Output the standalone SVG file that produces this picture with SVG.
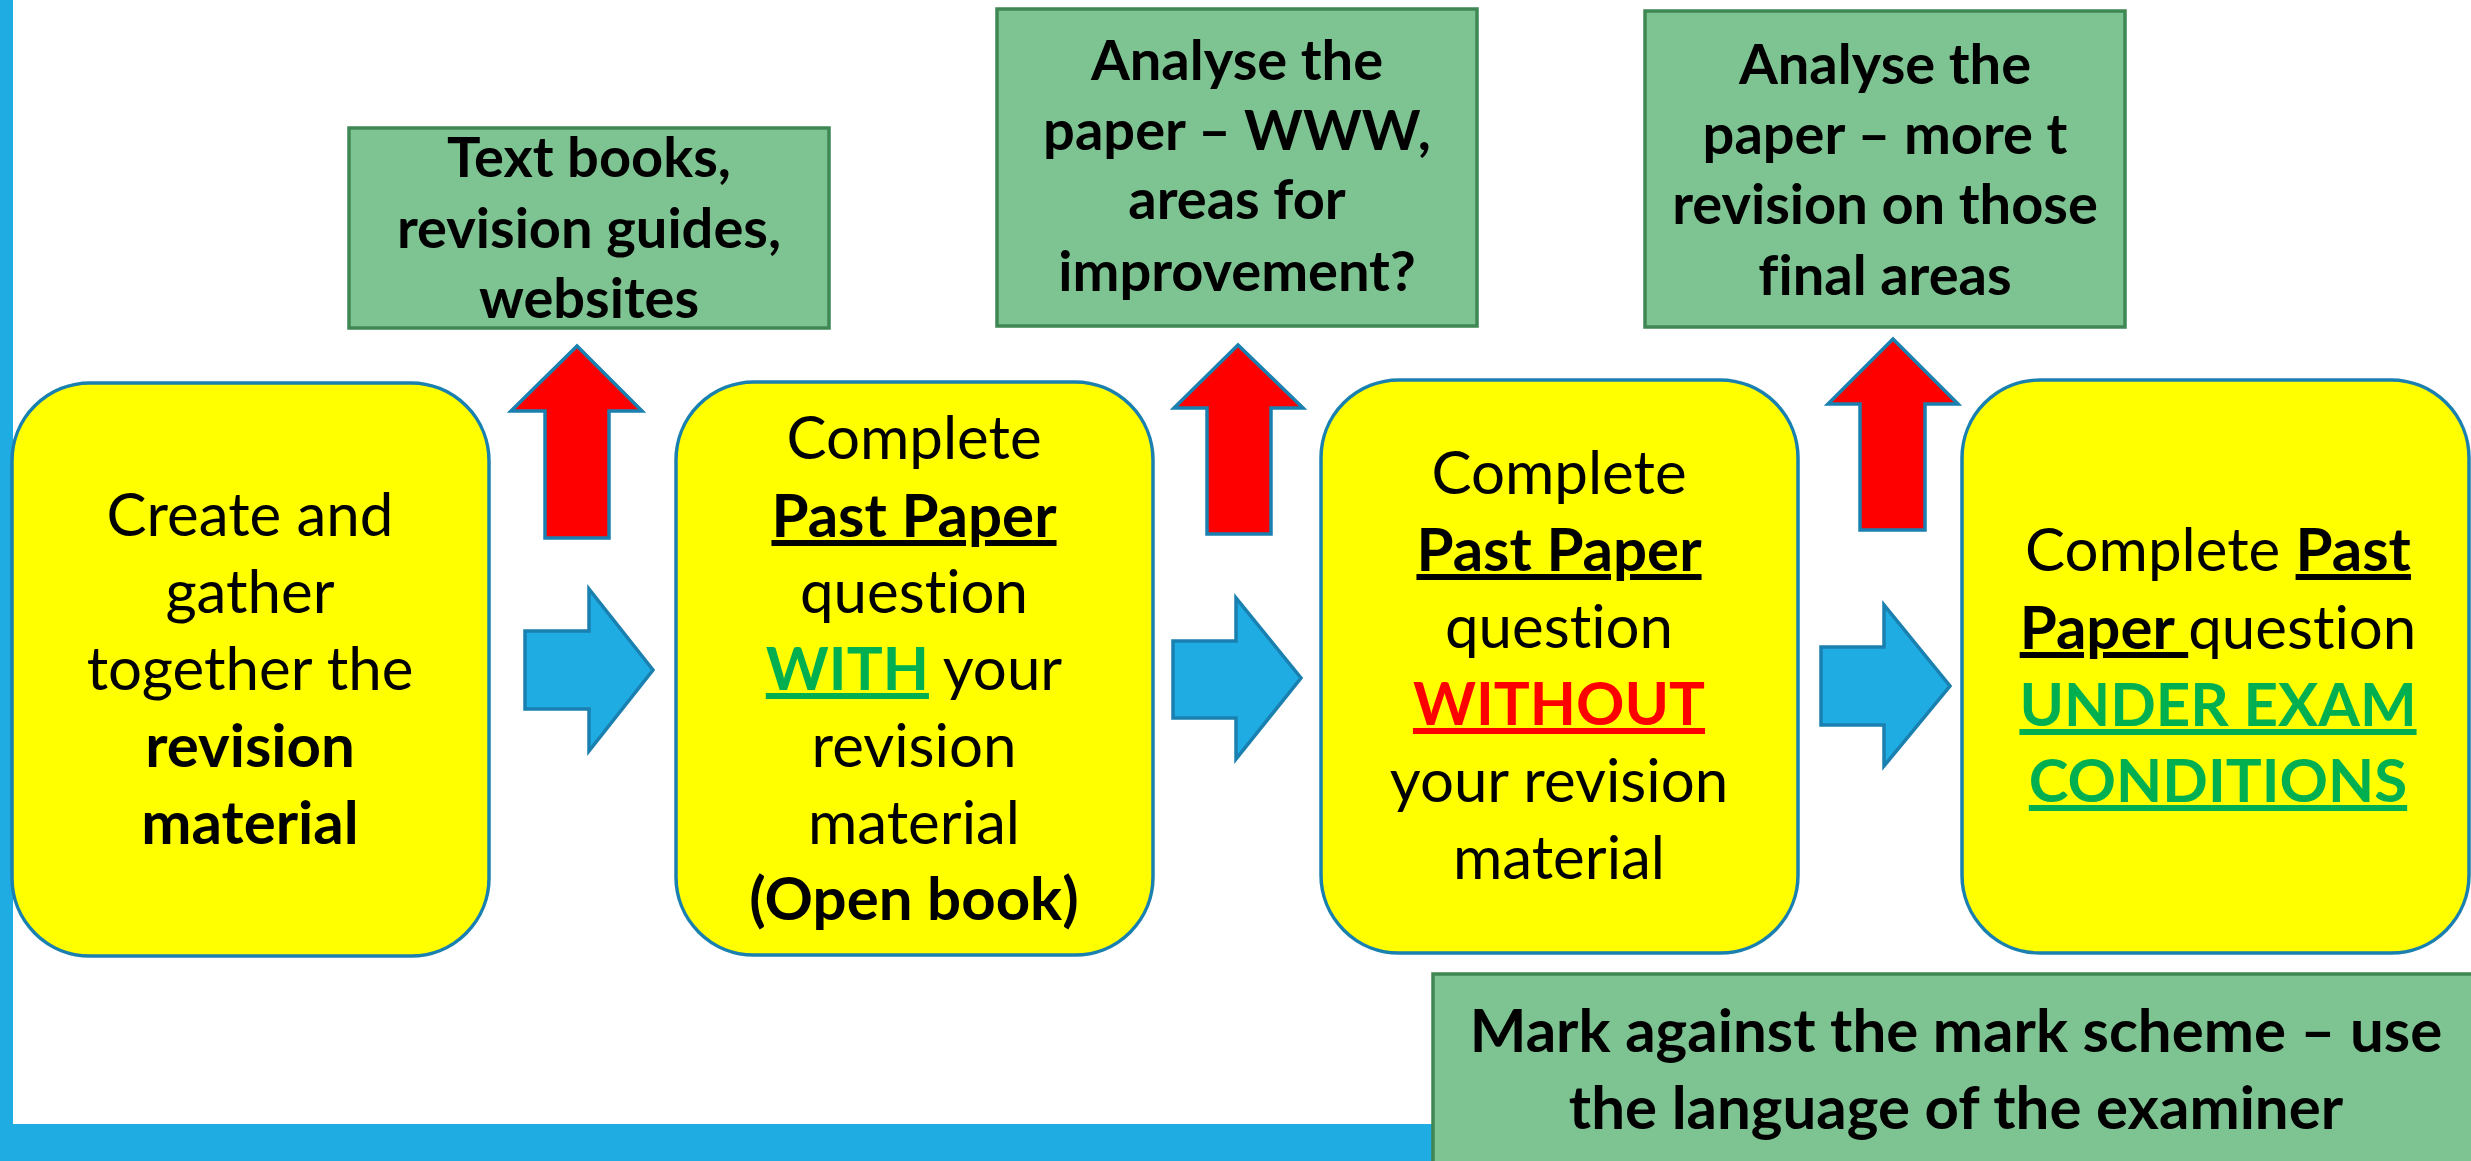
<svg xmlns="http://www.w3.org/2000/svg" width="2471" height="1161" viewBox="0 0 2471 1161">
<style>
text{font-family:Lato,"Liberation Sans",sans-serif;text-anchor:middle;fill:#000;font-variant-ligatures:none;font-feature-settings:"liga" 0,"clig" 0}
.y{font-size:60px}
.gt{font-size:56px;font-weight:700}
.bt{font-size:60px;font-weight:700}
.b{font-weight:700}
.u{text-decoration:underline}
.gr{fill:#00B050;font-weight:700}
.rd{fill:#FF0000;font-weight:700}
.ybox{fill:#FFFF00;stroke:#1A80B0;stroke-width:3.5}
.gbox{fill:#7EC493;stroke:#3F8753;stroke-width:3.5}
.red{fill:#FF0000;stroke:#1A80B0;stroke-width:3.5;stroke-linejoin:miter}
.blue{fill:#1FACE2;stroke:#1A80B0;stroke-width:3.5;stroke-linejoin:miter}
</style>
<rect width="2471" height="1161" fill="#FFFFFF"/>
<g id="frame">
<rect x="0" y="0" width="13" height="1161" fill="#1FACE2"/>
<rect x="0" y="1124" width="2471" height="37" fill="#1FACE2"/>
</g>
<g id="resources">
<rect class="gbox" x="349" y="128" width="480" height="200"/>
<text class="gt" x="589" y="177">Text books,</text>
<text class="gt" x="589" y="248">revision guides,</text>
<text class="gt" x="589" y="318">websites</text>
</g>
<g id="analyse1">
<rect class="gbox" x="997" y="9" width="480" height="317"/>
<text class="gt" x="1237" y="80">Analyse the</text>
<text class="gt" x="1237" y="150">paper – WWW,</text>
<text class="gt" x="1237" y="219">areas for</text>
<text class="gt" x="1237" y="291">improvement?</text>
</g>
<g id="analyse2">
<rect class="gbox" x="1645" y="11" width="480" height="316"/>
<text class="gt" x="1885" y="84">Analyse the</text>
<text class="gt" x="1885" y="154">paper – more t</text>
<text class="gt" x="1885" y="224">revision on those</text>
<text class="gt" x="1885" y="295">final areas</text>
</g>
<g id="step1">
<rect class="ybox" x="12" y="383" width="477" height="573" rx="78" ry="78"/>
<text class="y" x="250" y="536">Create and</text>
<text class="y" x="250" y="613">gather</text>
<text class="y" x="250" y="690">together the</text>
<text class="y b" x="250" y="767">revision</text>
<text class="y b" x="250" y="844">material</text>
</g>
<g id="step2">
<rect class="ybox" x="676" y="382" width="477" height="573" rx="78" ry="78"/>
<text class="y" x="914" y="459">Complete</text>
<text class="y" x="914" y="537"><tspan class="b u">Past Paper</tspan></text>
<text class="y" x="914" y="613">question</text>
<text class="y" x="914" y="690"><tspan class="gr u">WITH</tspan> your</text>
<text class="y" x="914" y="767">revision</text>
<text class="y" x="914" y="844">material</text>
<text class="y b" x="914" y="920">(Open book)</text>
</g>
<g id="step3">
<rect class="ybox" x="1321" y="380" width="477" height="573" rx="78" ry="78"/>
<text class="y" x="1559" y="494">Complete</text>
<text class="y" x="1559" y="571"><tspan class="b u">Past Paper</tspan></text>
<text class="y" x="1559" y="648">question</text>
<text class="y" x="1559" y="725"><tspan class="rd u">WITHOUT</tspan></text>
<text class="y" x="1559" y="802">your revision</text>
<text class="y" x="1559" y="879">material</text>
</g>
<g id="step4">
<rect class="ybox" x="1962" y="380" width="507" height="573" rx="78" ry="78"/>
<text class="y" x="2218" y="571">Complete <tspan class="b u">Past</tspan></text>
<text class="y" x="2218" y="649"><tspan class="b u">Paper </tspan>question</text>
<text class="y" x="2218" y="726"><tspan class="gr u">UNDER EXAM</tspan></text>
<text class="y" x="2218" y="802"><tspan class="gr u">CONDITIONS</tspan></text>
</g>
<g id="mark">
<rect class="gbox" x="1433" y="974" width="1045" height="200"/>
<text class="bt" x="1956" y="1052">Mark against the mark scheme – use</text>
<text class="bt" x="1956" y="1129">the language of the examiner</text>
</g>
<g id="connectors">
<polygon class="red" points="577,346 511,411 545,411 545,538 609,538 609,411 642,411"/>
<polygon class="red" points="1238,345 1174,408 1207,408 1207,534 1271,534 1271,408 1303,408"/>
<polygon class="red" points="1893,339 1828,404 1860,404 1860,530 1925,530 1925,404 1958,404"/>
<polygon class="blue" points="525,631 589,631 589,589 653,670 589,751 589,709 525,709"/>
<polygon class="blue" points="1173,641 1236,641 1236,598 1301,678 1236,759 1236,718 1173,718"/>
<polygon class="blue" points="1821,647 1884,647 1884,605 1950,686 1884,766 1884,725 1821,725"/>
</g>
</svg>
